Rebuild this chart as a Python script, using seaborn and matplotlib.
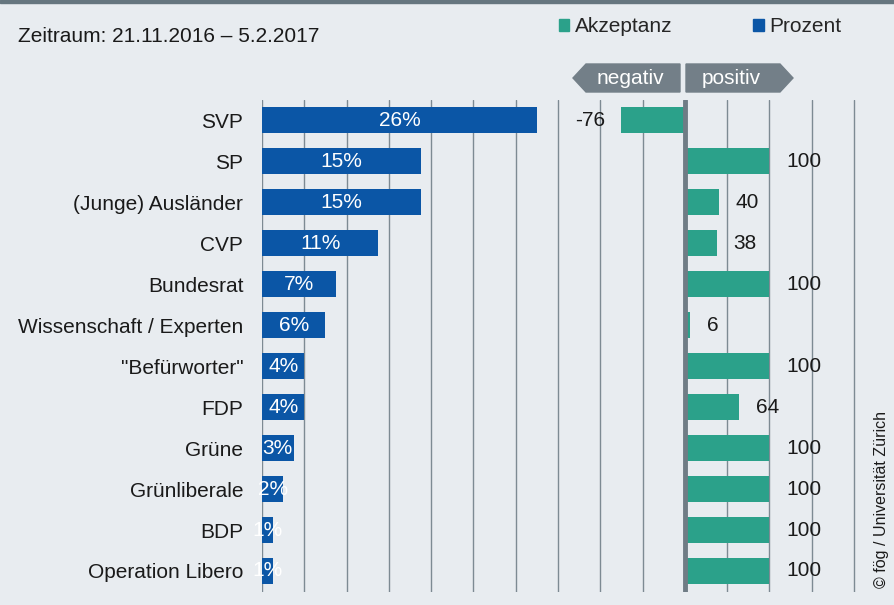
import matplotlib
matplotlib.use("Agg")
import matplotlib.pyplot as plt
from matplotlib.patches import Patch, Polygon, Rectangle
import pandas as pd
import seaborn as sns

# Daten
kategorien = ['SVP', 'SP', '(Junge) Ausländer', 'CVP', 'Bundesrat',
              'Wissenschaft / Experten', '"Befürworter"', 'FDP', 'Grüne',
              'Grünliberale', 'BDP', 'Operation Libero']
prozent = [26, 15, 15, 11, 7, 6, 4, 4, 3, 2, 1, 1]
akzeptanz = [-76, 100, 40, 38, 100, 6, 100, 64, 100, 100, 100, 100]

df = pd.DataFrame({'Akteur': kategorien, 'Prozent': prozent, 'Akzeptanz': akzeptanz})

BLAU = '#0b56a6'
GRUEN = '#2ba18a'
GRAU = '#6f7c85'
HINTERGRUND = '#e8ecf0'
FS = 15

sns.set_theme(style='white')
plt.rcParams['font.family'] = ['Liberation Sans', 'DejaVu Sans']

W, H = 895, 605
fig = plt.figure(figsize=(W / 100, H / 100), dpi=100, facecolor=HINTERGRUND)

def fx(px):
    return px / W

def fy(py):
    return 1 - py / H

# Rahmen oben
fig.patches.append(Rectangle((0, fy(3)), 1, 3 / H, transform=fig.transFigure,
                             color='#66767f', zorder=0))

# Achsen: links Prozent (0..56), rechts Akzeptanz auf gleicher Pixelskala
px_pro_prozent = 592 / 56
rect = [fx(262), fy(591.5), fx(862) - fx(262), fy(99.5) - fy(591.5)]
ax1 = fig.add_axes(rect)
ax1.set_facecolor('none')
sns.barplot(data=df, x='Prozent', y='Akteur', orient='h', color=BLAU,
            width=0.64, saturation=1, linewidth=0, ax=ax1)
ax1.set_xlim(0, 600 / px_pro_prozent)
ax1.set_ylim(11.5, -0.5)
ax1.set_xticks(range(0, 57, 4))
ax1.set_xticklabels([])
ax1.grid(axis='x', color='#7d8a93', linewidth=1)
ax1.set_axisbelow(True)
ax1.tick_params(axis='y', length=0, pad=13.5, labelsize=FS, labelcolor='#1a1a1a')
ax1.tick_params(axis='x', length=0)
ax1.set_xlabel('')
ax1.set_ylabel('')
for s in ax1.spines.values():
    s.set_visible(False)

for i, v in enumerate(prozent):
    ax1.text(v / 2, i, f'{v}%', ha='center', va='center', color='white', fontsize=FS)

ax2 = fig.add_axes(rect)
ax2.set_facecolor('none')
sns.barplot(data=df, x='Akzeptanz', y='Akteur', orient='h', color=GRUEN,
            width=0.64, saturation=1, linewidth=0, ax=ax2)
# 4 % entsprechen 50 Punkten Akzeptanz, Nullpunkt bei 40 %
ax2.set_xlim(-500, -500 + 600 / px_pro_prozent * 12.5)
ax2.set_ylim(11.5, -0.5)
ax2.axis('off')
ax2.axvline(0, color=GRAU, linewidth=3.5, zorder=5)

for i, v in enumerate(akzeptanz):
    if v >= 0:
        ax2.annotate(str(v), (v, i), xytext=(12, 0), textcoords='offset points',
                     ha='left', va='center', fontsize=FS, color='#1a1a1a')
    else:
        ax2.annotate(str(v), (v, i), xytext=(-11, 0), textcoords='offset points',
                     ha='right', va='center', fontsize=FS, color='#1a1a1a')

# Zeitraum
fig.text(fx(18), fy(36), 'Zeitraum: 21.11.2016 – 5.2.2017', ha='left', va='center',
         fontsize=FS, color='#1a1a1a')

# Legende
handles = [Patch(color=GRUEN, label='Akzeptanz'), Patch(color=BLAU, label='Prozent')]
fig.legend(handles=handles, loc='center left', bbox_to_anchor=(fx(559), fy(27)),
           ncol=2, frameon=False, fontsize=FS, handlelength=0.5, handleheight=0.5,
           handletextpad=0.25, columnspacing=3.9, borderpad=0, borderaxespad=0)

# Pfeile negativ / positiv
neg = [(573, 78), (586, 64), (680, 64), (680, 92), (586, 92)]
pos = [(686, 64), (780, 64), (793, 78), (780, 92), (686, 92)]
for pts, txt, cx in [(neg, 'negativ', 630), (pos, 'positiv', 731)]:
    fig.patches.append(Polygon([(fx(x), fy(y)) for x, y in pts], closed=True,
                               transform=fig.transFigure, color='#737f88'))
    fig.text(fx(cx), fy(78), txt, ha='center', va='center', color='white', fontsize=FS)

# Copyright
fig.text(fx(882), fy(588), '© fög / Universität Zürich', rotation=90,
         ha='center', va='bottom', fontsize=11.5, color='#1a1a1a')

fig.savefig('out.png', dpi=100, facecolor=HINTERGRUND)
